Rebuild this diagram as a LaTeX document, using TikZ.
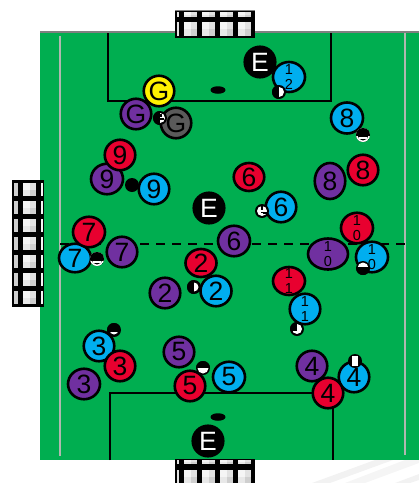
\documentclass[tikz,border=0pt]{standalone}
\usepackage{fontspec}
\setmainfont{Liberation Sans}
\usetikzlibrary{shapes.geometric}
\definecolor{pitch}{HTML}{00AE50}
\definecolor{tred}{HTML}{E8002F}
\definecolor{tblue}{HTML}{00AEEF}
\definecolor{tpurple}{HTML}{7030A0}
\definecolor{tgray}{HTML}{5A5A5A}
\definecolor{touch}{HTML}{B0B8B0}
\definecolor{qa}{HTML}{F5F5F5}
\definecolor{qb}{HTML}{E2E2E2}
\definecolor{qc}{HTML}{E8E8E8}
\definecolor{qd}{HTML}{CFCFCF}
\tikzset{
  player/.style={ellipse,draw=black,line width=2.6pt,inner sep=0pt},
  onedig/.style={font=\fontsize{26.5}{26.5}\selectfont,inner sep=0pt},
  twodig/.style={font=\fontsize{14.5}{15.5}\selectfont,align=center,inner sep=0pt},
  redp/.style={player,fill=tred},
  bluep/.style={player,fill=tblue},
  purplep/.style={player,fill=tpurple},
  refp/.style={player,fill=black},
  ballnode/.style={circle,fill=black,draw=none,inner sep=0pt,minimum size=14pt,
    path picture={\begin{scope}[shift={(path picture bounding box.center)}]#1\end{scope}}},
  spot/.style={ellipse,fill=black,inner sep=0pt,minimum width=15pt,minimum height=7.5pt},
  pitchline/.style={black,line width=2.4pt},
  touchline/.style={touch,line width=2.4pt},
}
\newcommand{\pl}[7]{\node[#2,minimum width={#5pt+1pt},minimum height={#6pt+1pt},label={[onedig]center:#7}] (#1) at (#3,#4) {};}
\newcommand{\plw}[7]{\node[#2,minimum width={#5pt+1pt},minimum height={#6pt+1pt},label={[onedig,text=white]center:#7}] (#1) at (#3,#4) {};}
\newcommand{\pld}[7]{\node[#2,minimum width={#5pt+1pt},minimum height={#6pt+1pt},label={[twodig]center:#7}] (#1) at (#3,#4) {};}
\newcommand{\gcell}[4]{%
  \fill[qa] (#1,#2) rectangle ++(#3/2,#4/2);
  \fill[qb] (#1+#3/2,#2) rectangle ++(#3/2,#4/2);
  \fill[qc] (#1,#2+#4/2) rectangle ++(#3/2,#4/2);
  \fill[qd] (#1+#3/2,#2+#4/2) rectangle ++(#3/2,#4/2);}
\begin{document}
\begin{tikzpicture}[x=1pt,y=-1pt]
\useasboundingbox (0,0) rectangle (419,483);
% background streaks
\fill[gray!10] (312,483) -- (375,460) -- (393,460) -- (330,483) -- cycle;
\fill[gray!8] (345,483) -- (405,460) -- (419,460) -- (419,463) -- (365,483) -- cycle;
\fill[gray!10] (395,483) -- (419,474) -- (419,480) -- (410,483) -- cycle;
% pitch
\fill[pitch] (40,32) rectangle (419,460);
\draw[gray,line width=2pt] (40,32) -- (419,32);
\draw[touchline] (60,36) -- (60,456);
\draw[touchline] (405,33) -- (405,455);
\draw[pitchline] (108,33) -- (108,101) -- (331,101) -- (331,33);
\draw[pitchline] (110,460) -- (110,393) -- (333,393) -- (333,460);
\draw[black,line width=2.4pt,dash pattern=on 9pt off 7pt] (60,244) -- (405,244);
\node[spot] (spotT) at (218,90) {};
\node[spot] (spotB) at (218,417) {};
% top goal
\fill[black] (175,10) rectangle (255,38);
\draw[gray,line width=.8pt] (175,10) -- (255,10);
\foreach \x in {184,202,220,238}{
  \gcell{\x}{12}{13}{5}
  \gcell{\x}{22}{13}{14}
}
\fill[qb] (177,12) rectangle (179,17);
\fill[qb] (177,22) rectangle (179,36);
% bottom goal
\fill[black] (175,459) rectangle (255,483);
\foreach \x in {184,202,220,238}{
  \gcell{\x}{460}{13}{4}
  \gcell{\x}{470}{13}{13}
}
\fill[qb] (177,460) rectangle (179,464);
\fill[qb] (177,470) rectangle (179,483);
% left goal
\fill[black] (12,180) rectangle (44,307);
\foreach \y in {183,201,219,237,255,273,291}{
  \gcell{23}{\y}{13}{13}
  \fill[qd] (14,\y) rectangle ++(4,13);
  \fill[qa] (41,\y) rectangle ++(2,13);
}
% referees
\plw{refT}{refp}{260}{62}{29.5}{29.5}{E}
\plw{refM}{refp}{209}{208}{29.5}{29.5}{E}
\plw{refB}{refp}{208}{441}{29.5}{29.5}{E}
% goalkeepers
\pl{gkY}{player,fill=yellow}{159}{91}{29.5}{29.5}{G}
\pl{gkP}{purplep}{136}{114}{29.5}{29.5}{G}
\pl{gkG}{player,fill=tgray}{176}{123}{29.5}{29.5}{G}
% blue
\pld{b12}{bluep}{289}{77}{31}{29}{1\\2}
\pl{b8}{bluep}{347}{118}{31}{30}{8}
\pl{b9}{bluep}{154}{189}{29.5}{29.5}{9}
\pl{b7}{bluep}{75}{258}{31}{27.5}{7}
\pl{b6}{bluep}{281}{207}{29.5}{29.5}{6}
\pl{b2}{bluep}{216}{291}{30}{29.5}{2}
\pld{b10}{bluep}{372}{257}{31}{29.5}{1\\0}
\pld{b11}{bluep}{305}{309}{29.5}{29.5}{1\\1}
\pl{b3}{bluep}{99}{346}{29.5}{29.5}{3}
\pl{b5}{bluep}{229}{377}{31}{29.5}{5}
\pl{b4}{bluep}{354}{377}{29.5}{29.5}{4}
% purple
\pl{p9}{purplep}{107}{179}{31}{29.5}{9}
\pl{p7}{purplep}{122}{252}{29.5}{29.5}{7}
\pl{p2}{purplep}{165}{293}{29.5}{29.5}{2}
\pl{p8}{purplep}{330}{181}{29.5}{35}{8}
\pl{p6}{purplep}{234}{241}{31}{29.5}{6}
\pld{p10}{purplep}{328}{254}{39}{30}{1\\0}
\pl{p3}{purplep}{84}{384}{31}{29.5}{3}
\pl{p5}{purplep}{179}{352}{29.5}{29.5}{5}
\pl{p4}{purplep}{312}{366}{29.5}{29.5}{4}
% red
\pl{r9}{redp}{120}{155}{29.5}{29.5}{9}
\pl{r8}{redp}{363}{170}{29.5}{29.5}{8}
\pl{r7}{redp}{89}{232}{31}{29.5}{7}
\pl{r6}{redp}{249}{177}{29.5}{27}{6}
\pl{r2}{redp}{201}{263}{30}{27}{2}
\pld{r10}{redp}{357}{228}{31}{29.5}{1\\0}
\pld{r11}{redp}{289}{281}{31}{27}{1\\1}
\pl{r3}{redp}{120}{366}{29.5}{29.5}{3}
\pl{r5}{redp}{190}{386}{29.5}{29.5}{5}
\pl{r4}{redp}{328}{393}{29.5}{29.5}{4}
% balls
\node[ballnode={\fill[white] (0,0) circle (5); \fill[black] (-7,-7) rectangle (0,7); \fill[black] (-2,-4) rectangle (2,-1); \fill[black] (-1,0) rectangle (4,2);}] (b1) at (160,118) {};
\node[ballnode={\fill[white] (0,0) circle (5); \fill[black] (-7,-7) rectangle (0,7);}] (b2) at (279,92) {};
\node[ballnode={\fill[white] (0,0) circle (7); \fill[black] (0,0) circle (5.5); \fill[black] (-7,-7) rectangle (7,1); \fill[white] (-4,2) rectangle (4,4);}] (b3) at (363,135) {};
\node[ballnode={}] (b4) at (132,185) {};
\node[ballnode={\fill[white] (0,0) circle (7); \fill[black] (0,0) circle (5.5); \fill[black] (-7,-7) rectangle (7,1.5); \fill[white] (-4,2) rectangle (4,3.5);}] (b5) at (97,259) {};
\node[ballnode={\fill[white] (0,0) circle (5); \fill[black] (-1,-5) rectangle (1,-1); \fill[black] (1,1) rectangle (5,3); \fill[black] (-1,1) rectangle (1,2);}] (b6) at (262,211) {};
\node[ballnode={\fill[white] (0,0) circle (5.5); \fill[black] (-7,-1) rectangle (7,7);}] (b7) at (363,268) {};
\node[ballnode={\fill[white] (0,0) circle (4.5); \fill[black] (-7,-7) rectangle (0,7);}] (b8) at (194,287) {};
\node[ballnode={\fill[white] (0,0) circle (5); \fill[black] (-7,-7) rectangle (0,1.5);}] (b9) at (297,329) {};
\node[ballnode={\fill[white] (0,0) circle (4.5); \fill[black] (-7,-7) rectangle (7,2);}] (b10) at (114,330) {};
\node[ballnode={\fill[white] (0,0) circle (5.5); \fill[black] (-7,-7) rectangle (7,0);}] (b11) at (203,368) {};
\node[ballnode={\fill[white] (-3,-5) rectangle (3,5);}] (b12) at (355,361) {};
\end{tikzpicture}
\end{document}
